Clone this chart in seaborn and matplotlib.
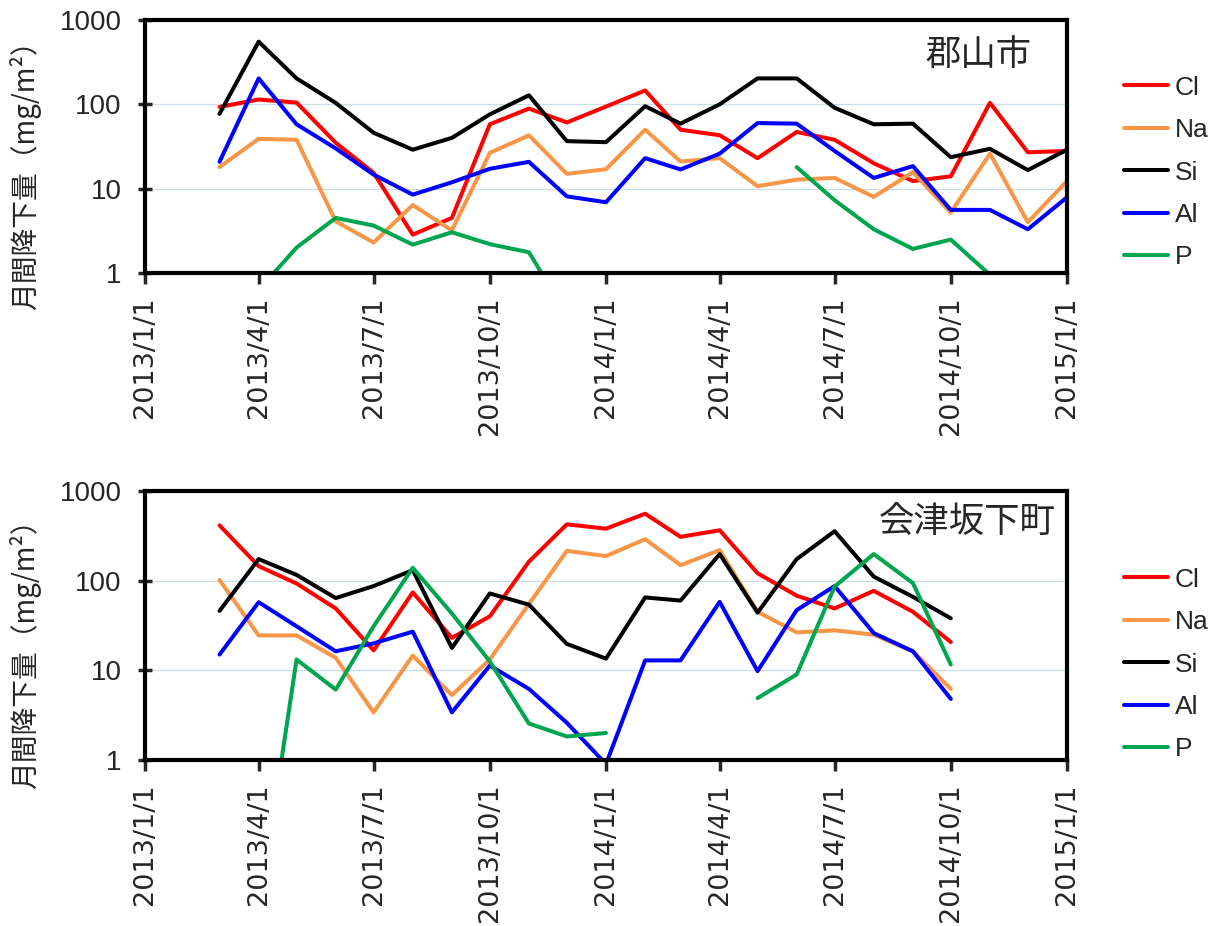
import numpy as np
import pandas as pd
import matplotlib
matplotlib.use("Agg")
import matplotlib.pyplot as plt
import seaborn as sns

nan = np.nan

# Monthly deposition (mg/m2), first of each month
months_k = pd.date_range("2013-03-01", "2015-01-01", freq="MS")
cl_k = [93, 114, 105, 35, 15.4, 2.85, 4.5, 58, 89, 61, 94, 146, 50, 43, 23, 47, 38, 20, 12.3, 14, 104, 27, 28]
na_k = [18, 39, 38, 4.1, 2.3, 6.4, 3.2, 26.6, 42.8, 15, 17, 50, 21, 23, 10.7, 12.8, 13.4, 8, 15.7, 5.2, 26, 4.0, 12.3]
si_k = [77, 554, 203, 104, 46, 29, 40, 76, 128, 36.6, 35.6, 95, 59, 100, 203, 203, 91, 58, 59, 23.6, 29.7, 16.6, 29]
al_k = [20.8, 203, 58, 30, 14.7, 8.5, 11.9, 17.2, 20.8, 8.1, 6.9, 23, 16.9, 26, 60, 59, 28, 13.4, 18.5, 5.6, 5.6, 3.3, 7.9]
p_k = [nan, 0.63, 2.0, 4.5, 3.65, 2.17, 3.04, 2.2, 1.76, 0.32, nan, nan, nan, nan, nan, 18, 7.3, 3.3, 1.93, 2.49, 0.95, nan, nan]

months_a = pd.date_range("2013-03-01", "2014-10-01", freq="MS")
cl_a = [414, 145, 93, 49, 16.7, 74, 23, 40, 163, 425, 380, 558, 308, 365, 121, 68, 49, 77, 45, 20.7]
na_a = [102, 24.5, 24.5, 13.8, 3.4, 14.6, 5.3, 13.2, 55, 215, 188, 290, 149, 219, 45, 26.5, 27.9, 25, 16.3, 6.2]
si_a = [46, 174, 116, 64, 87, 131, 17.8, 72, 54, 19.7, 13.5, 65, 60, 198, 44, 174, 356, 111, 66, 38]
al_a = [15, 57.5, 31, 16.3, 20, 27, 3.4, 11.3, 6.2, 2.6, 0.9, 12.9, 12.9, 58, 9.8, 47, 87, 26, 16.3, 4.8]
p_a = [nan, 0.02, 13.2, 6.1, 31, 139, 43, 12.6, 2.55, 1.83, 2.0, nan, nan, nan, 4.9, 9, 86, 198, 94, 11.6]

elements = ["Cl", "Na", "Si", "Al", "P"]
colors = ["#FF0000", "#F79646", "#000000", "#0000FF", "#00A550"]
sites = ["郡山市", "会津坂下町"]

tick_dates = pd.to_datetime(["2013-01-01", "2013-04-01", "2013-07-01", "2013-10-01",
                             "2014-01-01", "2014-04-01", "2014-07-01", "2014-10-01",
                             "2015-01-01"])
tick_labels = ["2013/1/1", "2013/4/1", "2013/7/1", "2013/10/1", "2014/1/1",
               "2014/4/1", "2014/7/1", "2014/10/1", "2015/1/1"]
y_ticks = [1, 10, 100, 1000]
y_labels = ["1", "10", "100", "1000"]


def long_frame(dates, series):
    """Stack series into long form; gaps split each line into separate units."""
    parts = []
    for name, vals in zip(elements, series):
        v = pd.Series(vals, dtype=float)
        seg = v.isna().cumsum()
        df = pd.DataFrame({"date": dates, "value": v, "element": name,
                           "unit": [f"{name}-{s}" for s in seg]})
        parts.append(df.dropna())
    return pd.concat(parts, ignore_index=True)


sns.set_style("white")
plt.rcParams["font.family"] = ["Liberation Sans", "Noto Sans CJK JP", "DejaVu Sans"]

W, H = 1222, 926
fig = plt.figure(figsize=(W / 100, H / 100), dpi=100)

panels = [
    (months_k, [cl_k, na_k, si_k, al_k, p_k], (20, 273), 0.962, 0.862, (1113, 65)),
    (months_a, [cl_a, na_a, si_a, al_a, p_a], (491, 760), 0.988, 0.885, (1113, 557)),
]

palette = dict(zip(elements, colors))
cjk = ["Noto Sans CJK JP", "DejaVu Sans"]

for (dates, series, (top, bot), tx, ty, (lx, ly)), site in zip(panels, sites):
    ax = fig.add_axes([145 / W, 1 - bot / H, 922 / W, (bot - top) / H])
    data = long_frame(dates, series)
    sns.lineplot(data=data, x="date", y="value", hue="element", units="unit",
                 estimator=None, palette=palette, hue_order=elements,
                 linewidth=2.9, ax=ax, legend=True)
    ax.set_yscale("log")
    ax.set_ylim(1, 1000)
    ax.set_xlim(pd.Timestamp("2013-01-01"), pd.Timestamp("2015-01-01"))
    ax.set_yticks(y_ticks)
    ax.set_yticklabels(y_labels)
    ax.yaxis.set_minor_locator(matplotlib.ticker.NullLocator())
    ax.set_xticks(tick_dates)
    ax.set_xticklabels(tick_labels, rotation=90, va="top", ha="center",
                       family="DejaVu Sans")
    ax.set_xlabel("")
    ax.set_ylabel("")
    ax.yaxis.grid(True, color="#c8dfe8", linewidth=0.9)
    ax.xaxis.grid(False)
    for sp in ax.spines.values():
        sp.set_color("black")
        sp.set_linewidth(3)
    ax.tick_params(axis="y", direction="inout", length=10, width=2.5,
                   labelsize=20, pad=12, left=True)
    ax.tick_params(axis="x", direction="out", length=8, width=2.5,
                   labelsize=19.5, pad=9, bottom=True)
    ax.text(tx, ty, site, transform=ax.transAxes, ha="right", va="center",
            fontsize=25.5, family=cjk)

    handles, labels = ax.get_legend_handles_labels()
    ax.legend(handles, labels, loc="upper left", frameon=False,
              bbox_to_anchor=(lx / W, 1 - ly / H), bbox_transform=fig.transFigure,
              fontsize=19, handlelength=1.7, handletextpad=0.25,
              labelspacing=0.7, borderaxespad=0)

    fig.text(25 / W, 1 - ((top + bot) / 2 + 22) / H, "月間降下量（mg/m²）",
             rotation=90, ha="center", va="center", fontsize=20, family=cjk)

fig.savefig("out.png", dpi=100)
